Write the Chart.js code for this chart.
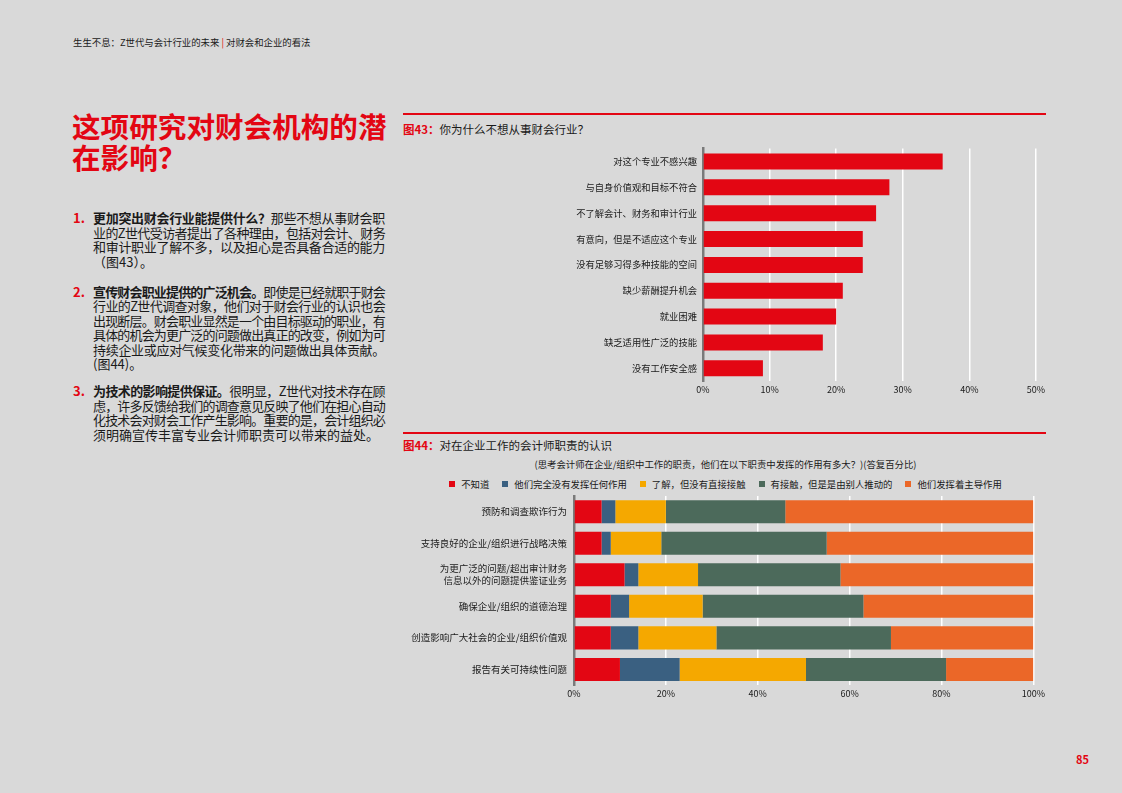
<!DOCTYPE html>
<html lang="zh">
<head>
<meta charset="utf-8">
<script src="https://cdn.jsdelivr.net/npm/chart.js@4/dist/chart.umd.min.js"></script>
<style>
  html, body { margin: 0; padding: 0; }
  body {
    width: 1122px; height: 793px; position: relative; overflow: hidden;
    background: #d9d9d9; color: #1a1a1a;
    font-family: "Noto Sans CJK SC", "Noto Sans", sans-serif;
  }
  .abs { position: absolute; }
  .header { left: 73px; top: 35px; font-size: 9.4px; white-space: nowrap; }
  .header .bar { color: #e30613; }
  .title { left: 72px; top: 110px; font-size: 28.6px; font-weight: bold; color: #e30613; line-height: 31px; }
  .item { left: 73px; width: 312px; font-size: 13px; line-height: 14.5px; }
  .item .num { position: absolute; left: 0; top: 0; color: #e30613; font-weight: bold; }
  .item .txt { margin-left: 20px; width: 292px; }
  .item .ln { display: block; white-space: nowrap; text-align: justify; text-align-last: justify; }
  .item .ln.last { text-align-last: left; }
  .rule { left: 403px; width: 643px; height: 1.5px; background: #e30613; }
  .ctitle { left: 403px; font-size: 11.5px; white-space: nowrap; }
  .ctitle b { color: #e30613; }
  .sub { left: 403px; width: 645px; text-align: center; font-size: 9.4px; white-space: nowrap; }
  .legend { left: 403px; width: 645px; display: flex; justify-content: center; gap: 13px; font-size: 9.4px; white-space: nowrap; }
  .legend span i { display: inline-block; width: 6px; height: 6px; margin-right: 6px; vertical-align: 1px; }
  .pnum { left: 1076px; top: 751px; font-size: 11px; font-weight: bold; color: #e30613; }
</style>
</head>
<body>
<div class="abs header">生生不息：Z世代与会计行业的未来 <span class="bar">|</span> 对财会和企业的看法</div>
<div class="abs title">这项研究对财会机构的潜<br>在影响？</div>

<div class="abs item" style="top:211px">
  <div class="num">1.</div>
  <div class="txt">
    <span class="ln"><b>更加突出财会行业能提供什么？</b>那些不想从事财会职</span>
    <span class="ln">业的Z世代受访者提出了各种理由，包括对会计、财务</span>
    <span class="ln">和审计职业了解不多，以及担心是否具备合适的能力</span>
    <span class="ln last">（图43）。</span>
  </div>
</div>
<div class="abs item" style="top:284.5px">
  <div class="num">2.</div>
  <div class="txt">
    <span class="ln"><b>宣传财会职业提供的广泛机会。</b>即使是已经就职于财会</span>
    <span class="ln">行业的Z世代调查对象，他们对于财会行业的认识也会</span>
    <span class="ln">出现断层。财会职业显然是一个由目标驱动的职业，有</span>
    <span class="ln">具体的机会为更广泛的问题做出真正的改变，例如为可</span>
    <span class="ln">持续企业或应对气候变化带来的问题做出具体贡献。</span>
    <span class="ln last">(图44)。</span>
  </div>
</div>
<div class="abs item" style="top:384px">
  <div class="num">3.</div>
  <div class="txt">
    <span class="ln"><b>为技术的影响提供保证。</b>很明显，Z世代对技术存在顾</span>
    <span class="ln">虑，许多反馈给我们的调查意见反映了他们在担心自动</span>
    <span class="ln">化技术会对财会工作产生影响。重要的是，会计组织必</span>
    <span class="ln last">须明确宣传丰富专业会计师职责可以带来的益处。</span>
  </div>
</div>

<div class="abs rule" style="top:113px"></div>
<div class="abs ctitle" style="top:121px"><b>图43：</b>你为什么不想从事财会行业？</div>
<div class="abs" style="left:403px; top:137px; width:645px; height:269px"><canvas id="c43"></canvas></div>

<div class="abs rule" style="top:432px"></div>
<div class="abs ctitle" style="top:437px"><b>图44：</b>对在企业工作的会计师职责的认识</div>
<div class="abs sub" style="top:457px">(思考会计师在企业/组织中工作的职责，他们在以下职责中发挥的作用有多大？)(答复百分比)</div>
<div class="abs legend" id="lg44" style="top:477px"></div>
<div class="abs" style="left:403px; top:483px; width:645px; height:225px"><canvas id="c44"></canvas></div>

<div class="abs pnum">85</div>

<script>
// 正文行太长时压缩字距
document.querySelectorAll('.item .ln').forEach(el => {
  const r = document.createRange();
  r.selectNodeContents(el);
  const w = r.getBoundingClientRect().width;
  if (w > 292) {
    const n = el.textContent.trim().length;
    el.style.letterSpacing = ((292 - w) / (n - 1)) + 'px';
  }
});

// 图43 数据
const reasons = [
  '对这个专业不感兴趣',
  '与自身价值观和目标不符合',
  '不了解会计、财务和审计行业',
  '有意向，但是不适应这个专业',
  '没有足够习得多种技能的空间',
  '缺少薪酬提升机会',
  '就业困难',
  '缺乏适用性广泛的技能',
  '没有工作安全感'
];
const reasonValues = [36, 28, 26, 24, 24, 21, 20, 18, 9];

// 图44 数据
const roles = [
  '预防和调查欺诈行为',
  '支持良好的企业/组织进行战略决策',
  ['为更广泛的问题/超出审计财务', '信息以外的问题提供鉴证业务'],
  '确保企业/组织的道德治理',
  '创造影响广大社会的企业/组织价值观',
  '报告有关可持续性问题'
];
const seriesNames = ['不知道', '他们完全没有发挥任何作用', '了解，但没有直接接触', '有接触，但是是由别人推动的', '他们发挥着主导作用'];
const dontKnow   = [6, 6, 11, 8, 8, 10];
const noRole     = [3, 2, 3, 4, 6, 13];
const aware      = [11, 11, 13, 16, 17, 27.5];
const involved   = [26, 36, 31, 35, 38, 30.5];
const leading    = [54, 45, 42, 37, 31, 19];
const seriesColors = ['#e30613', '#3a6081', '#f5a800', '#4c6a5b', '#eb6728'];

const font = { family: '"Noto Sans CJK SC", "Noto Sans", sans-serif' };
const textColor = '#1a1a1a';

function fixedWidth(w) {
  return function (scale) { scale.width = w; };
}

// 图43
new Chart(document.getElementById('c43'), {
  type: 'bar',
  data: {
    labels: reasons,
    datasets: [{
      data: reasonValues,
      backgroundColor: '#e30613',
      barPercentage: 0.62,
      categoryPercentage: 1
    }]
  },
  options: {
    indexAxis: 'y',
    responsive: true,
    maintainAspectRatio: false,
    animation: false,
    layout: { padding: { top: 7, right: 12, bottom: 8 } },
    plugins: { legend: { display: false }, tooltip: { enabled: false } },
    scales: {
      x: {
        min: 0, max: 50,
        ticks: { stepSize: 10, color: textColor, font: { ...font, size: 9 }, padding: 3, callback: v => v + '%' },
        grid: { color: '#ffffff', lineWidth: 1.5, drawTicks: false },
        border: { display: false }
      },
      y: {
        afterFit: fixedWidth(300),
        ticks: { color: textColor, font: { ...font, size: 9.3 }, padding: 6 },
        grid: { display: false, drawTicks: false },
        border: { display: true, color: '#7a7a7a', width: 2.5 }
      }
    }
  }
});

// 图44 图例
const lg = document.getElementById('lg44');
seriesNames.forEach((name, i) => {
  const s = document.createElement('span');
  s.innerHTML = '<i style="background:' + seriesColors[i] + '"></i>' + name;
  lg.appendChild(s);
});

// 图44
const seriesData = [dontKnow, noRole, aware, involved, leading];
new Chart(document.getElementById('c44'), {
  type: 'bar',
  data: {
    labels: roles,
    datasets: seriesData.map((d, i) => ({
      label: seriesNames[i],
      data: d,
      backgroundColor: seriesColors[i],
      barPercentage: 0.73,
      categoryPercentage: 1
    }))
  },
  options: {
    indexAxis: 'y',
    responsive: true,
    maintainAspectRatio: false,
    animation: false,
    layout: { padding: { top: 4, right: 13, bottom: 6 } },
    plugins: { legend: { display: false }, tooltip: { enabled: false } },
    scales: {
      x: {
        stacked: true,
        min: 0, max: 100,
        ticks: { stepSize: 20, color: textColor, font: { ...font, size: 9 }, padding: 3, callback: v => v + '%' },
        grid: { color: '#ffffff', lineWidth: 1.5, drawTicks: false },
        border: { display: false }
      },
      y: {
        stacked: true,
        afterFit: fixedWidth(171),
        ticks: { color: textColor, font: { ...font, size: 9.5, lineHeight: 1.25 }, padding: 7 },
        grid: { display: false, drawTicks: false },
        border: { display: true, color: '#7a7a7a', width: 2.5 }
      }
    }
  }
});
</script>
</body>
</html>
